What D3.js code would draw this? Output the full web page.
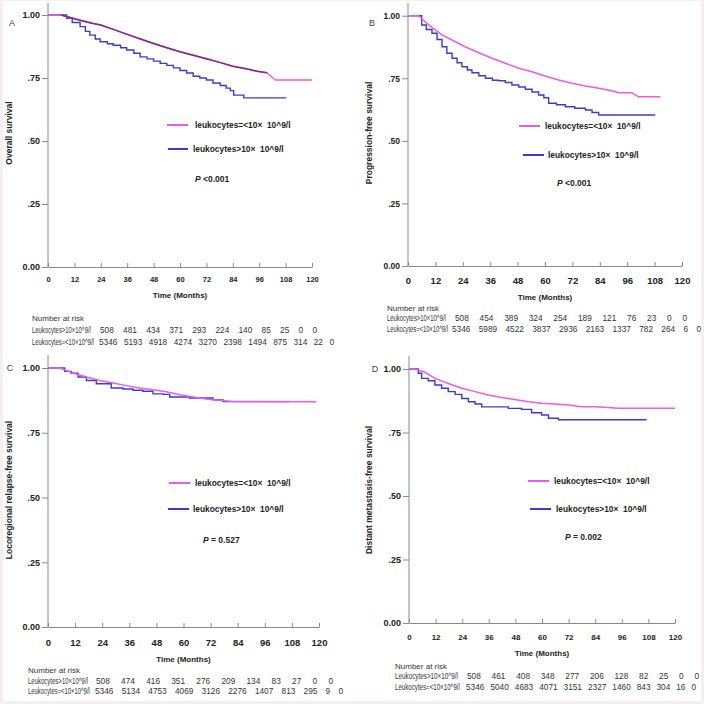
<!DOCTYPE html>
<html><head><meta charset="utf-8">
<script src="https://cdn.jsdelivr.net/npm/d3@7"></script>
<style>
html,body{margin:0;padding:0;background:#fff;}
svg{display:block;font-family:"Liberation Sans",Arial,sans-serif;}
text{white-space:pre;}
</style></head><body>
<svg id="c" width="704" height="704"></svg>
<script>
// ---------- DATA ----------
const monthTicks = [0,12,24,36,48,60,72,84,96,108,120];
const survTicks = [0,0.25,0.5,0.75,1];
const survTickLabels = ["0.00",".25",".50",".75","1.00"];
const panelLetters = ["A","B","C","D"];
const yTitles = ["Overall survival","Progression-free survival","Locoregional relapse-free survival","Distant metastasis-free survival"];
const legendLabels = ["leukocytes=<10×  10^9/l","leukocytes>10×  10^9/l"];
const riskLabels = ["Leukocytes>10×10^9/l","Leukocytes=<10×10^9/l"];
const pTexts = ["<0.001","<0.001","= 0.527","= 0.002"];

// Panel A
const A_low_t = [0,6,10,15,20,24,30,36,42,48,54,60,66,72,78,84,90,95,99.5,101,103.3,120];
const A_low_s = [1,1,0.99,0.978,0.967,0.96,0.942,0.923,0.905,0.887,0.870,0.854,0.840,0.826,0.812,0.797,0.787,0.777,0.771,0.76,0.742,0.742];
const A_high_t = [0,6,8.5,11,14.6,17,19,21.5,23.7,27,29.7,33,35.8,39,41.9,45,48,51,54,57,60,63,66,69,72,75,78.3,81,82.9,84.4,89,108.3];
const A_high_s = [1,1,0.987,0.97,0.954,0.935,0.92,0.905,0.894,0.886,0.88,0.87,0.861,0.848,0.834,0.826,0.817,0.808,0.80,0.79,0.78,0.77,0.757,0.75,0.742,0.73,0.72,0.71,0.70,0.682,0.671,0.671];
// Panel B
const B_low_t = [0,4.7,9,14.9,19.3,25,31,36.8,42.6,48.5,54.3,60,66,71.8,77.7,83.5,89.3,92.3,98,101,110.5];
const B_low_s = [1,1,0.963,0.923,0.903,0.876,0.852,0.83,0.81,0.79,0.776,0.759,0.743,0.73,0.719,0.71,0.70,0.692,0.692,0.676,0.676];
const B_high_t = [0,4.7,6,8,10.5,12.7,14.9,17,19.3,21.5,23.6,26,28,31,33.9,37,39.7,42.6,45.5,48.5,51.4,54.3,57.2,59.5,61.6,65,68.9,73,77.7,80.6,83.5,108.3];
const B_high_s = [1,1,0.963,0.945,0.93,0.905,0.876,0.85,0.83,0.812,0.796,0.783,0.772,0.76,0.75,0.742,0.74,0.733,0.723,0.715,0.706,0.695,0.683,0.672,0.65,0.644,0.636,0.63,0.623,0.613,0.603,0.603];
// Panel C
const C_low_t = [0,5.2,11,17,22.9,28.8,34.7,40.6,46.5,52.4,58.3,64.2,70,76,82,118.8];
const C_low_s = [1,1,0.981,0.965,0.952,0.942,0.932,0.923,0.916,0.908,0.897,0.888,0.88,0.875,0.871,0.87];
const C_high_t = [0,5.2,7.4,10.3,13.3,17,21.4,25,28,33.2,37.6,42,46.5,51,53.9,61.3,62.7,70,73,77.5,107];
const C_high_s = [1,1,0.987,0.98,0.965,0.952,0.939,0.939,0.923,0.919,0.914,0.91,0.90,0.898,0.888,0.888,0.884,0.884,0.877,0.87,0.87];
// Panel D
const D_low_t = [0,2.7,7.2,11.7,17.7,23.8,29.8,35.8,41.8,47.8,53.8,59.8,65.9,71.9,77.9,83.9,89.9,94.4,120];
const D_low_s = [1,1,0.987,0.963,0.943,0.924,0.911,0.898,0.888,0.88,0.871,0.865,0.862,0.858,0.851,0.851,0.848,0.845,0.845];
const D_high_t = [0,2.7,4.2,5.7,8.7,11.7,14.7,17.7,20.8,23.8,26.8,29.8,32.8,41.8,44.8,50.8,55.3,59.8,62.9,67.4,107.2];
const D_high_s = [1,1,0.983,0.963,0.954,0.937,0.924,0.911,0.90,0.884,0.871,0.862,0.851,0.851,0.845,0.841,0.828,0.819,0.806,0.80,0.80];

// Numbers at risk
const A_risk_high = [508,481,434,371,293,224,140,85,25,0,0];
const A_risk_low  = [5346,5193,4918,4274,3270,2398,1494,875,314,22,0];
const B_risk_high = [508,454,389,324,254,189,121,76,23,0,0];
const B_risk_low  = [5346,5989,4522,3837,2936,2163,1337,782,264,6,0];
const C_risk_high = [508,474,416,351,276,209,134,83,27,0,0];
const C_risk_low  = [5346,5134,4753,4069,3126,2276,1407,813,295,9,0];
const D_risk_high = [508,461,408,348,277,206,128,82,25,0,0];
const D_risk_low  = [5346,5040,4683,4071,3151,2327,1460,843,304,16,0];

// ---------- LAYOUT ----------
const PINK = "#e95be9", BLUE = "#3a3ad8", PURPLE = "#7d2b86", AXIS = "#8a8a8a", TXT = "#222";
const panels = [
 {low:[A_low_t,A_low_s], high:[A_high_t,A_high_s], risk:[A_risk_high,A_risk_low], overlay:[3,100],
  x0:48,x1:312,yT:15,yB:267,axTop:3, letter:[12,23], yTitle:[9,133], tickY:279, tickFs:7.5, yFs:9, timeY:295,
  nar:[32,318,330,342], rows:[[32,91,100,317],[32,94,99,334]],
  leg:[[125,167,188,195],[149,168,188,193]], p:[195,179]},
 {low:[B_low_t,B_low_s], high:[B_high_t,B_high_s], risk:[B_risk_high,B_risk_low],
  x0:408,x1:682,yT:15.7,yB:266,axTop:3, letter:[372,23], yTitle:[369,133], tickY:281, tickFs:9.5, yFs:8.5, timeY:297,
  nar:[387,308,318,329], rows:[[387,446,455,687],[387,448,452,701]],
  leg:[[126,519,540,545],[155,523,544,548]], p:[557,183]},
 {low:[C_low_t,C_low_s], high:[C_high_t,C_high_s], risk:[C_risk_high,C_risk_low],
  x0:48,x1:319,yT:368,yB:627,axTop:355, letter:[10,368], yTitle:[9,490], tickY:643, tickFs:9.5, yFs:9, timeY:659,
  nar:[28,670,681,691], rows:[[28,88,96,333],[28,90,95,343]],
  leg:[[483,169,190,195],[509,168,189,193]], p:[203,540]},
 {low:[D_low_t,D_low_s], high:[D_high_t,D_high_s], risk:[D_risk_high,D_risk_low],
  x0:409,x1:675,yT:369,yB:623,axTop:356, letter:[375,369], yTitle:[369,490], tickY:637, tickFs:8, yFs:9, timeY:653,
  nar:[395,666,676,687], rows:[[395,458,467,699],[395,460,466,696]],
  leg:[[481,528,549,554],[509,530,551,556]], p:[565,537]}
];

const svg = d3.select("#c");
// faint outer frame
svg.append("rect").attr("x",0).attr("y",0).attr("width",704).attr("height",704).attr("fill","#f5eff2");
svg.append("rect").attr("x",3).attr("y",1).attr("width",698).attr("height",700).attr("fill","#fff");

panels.forEach((P,i)=>{
  const g = svg.append("g");
  const x = d3.scaleLinear().domain([0,120]).range([P.x0,P.x1]);
  const y = d3.scaleLinear().domain([0,1]).range([P.yB,P.yT]);

  // y axis
  g.append("line").attr("x1",P.x0).attr("x2",P.x0).attr("y1",P.axTop).attr("y2",P.yB).attr("stroke",AXIS);
  const ya = g.append("g").attr("transform",`translate(${P.x0},0)`)
    .call(d3.axisLeft(y).tickValues(survTicks).tickSize(6).tickFormat((d,k)=>survTickLabels[k]));
  ya.select(".domain").remove();
  ya.selectAll("line").attr("stroke",AXIS);
  ya.selectAll("text").attr("font-size",P.yFs).attr("font-weight","bold").attr("fill",TXT)
    .attr("font-family","Liberation Sans, Arial, sans-serif").attr("x",-8);

  // x axis
  const xa = g.append("g").attr("transform",`translate(0,${P.yB})`)
    .call(d3.axisBottom(x).tickValues(monthTicks).tickSize(-4).tickSizeOuter(0));
  xa.select(".domain").attr("stroke",AXIS);
  xa.selectAll("line").attr("stroke",AXIS);
  xa.selectAll("text").attr("font-size",P.tickFs).attr("font-weight","bold").attr("fill",TXT)
    .attr("font-family","Liberation Sans, Arial, sans-serif")
    .attr("y",P.tickY-P.yB).attr("dy","0.35em");

  // titles
  g.append("text").attr("x",(P.x0+P.x1)/2).attr("y",P.timeY).attr("dy","0.35em")
    .attr("text-anchor","middle").attr("font-size",8).attr("font-weight","bold").attr("fill",TXT)
    .text("Time (Months)");
  g.append("text").attr("transform",`translate(${P.yTitle[0]},${P.yTitle[1]}) rotate(-90)`)
    .attr("dy","0.35em").attr("text-anchor","middle").attr("font-size",8.5).attr("font-weight","bold").attr("fill",TXT)
    .text(yTitles[i]);
  g.append("text").attr("x",P.letter[0]).attr("y",P.letter[1]).attr("dy","0.35em")
    .attr("text-anchor","middle").attr("font-size",9).attr("fill","#444").text(panelLetters[i]);

  // curves
  const lineLin = d3.line().x(d=>x(d[0])).y(d=>y(d[1]));
  const lineStep = d3.line().x(d=>x(d[0])).y(d=>y(d[1])).curve(d3.curveStepAfter);
  const lowPts = d3.zip(P.low[0],P.low[1]);
  const highPts = d3.zip(P.high[0],P.high[1]);
  g.append("path").attr("d",lineStep(highPts)).attr("fill","none").attr("stroke",BLUE).attr("stroke-width",1.4);
  g.append("path").attr("d",lineLin(lowPts)).attr("fill","none").attr("stroke",PINK).attr("stroke-width",1.5);
  if(P.overlay){
    const seg = lowPts.filter(d=>d[0]>=P.overlay[0] && d[0]<=P.overlay[1]);
    g.append("path").attr("d",lineLin(seg)).attr("fill","none").attr("stroke",PURPLE).attr("stroke-width",1.5);
  }

  // legend
  const legColors = [PINK,BLUE];
  P.leg.forEach((L,k)=>{
    g.append("line").attr("x1",L[1]).attr("x2",L[2]).attr("y1",L[0]).attr("y2",L[0])
      .attr("stroke",legColors[k]).attr("stroke-width",2);
    g.append("text").attr("x",L[3]).attr("y",L[0]).attr("dy","0.35em")
      .attr("font-size",8.4).attr("font-weight","bold").attr("fill",TXT).text(legendLabels[k]);
  });
  const pt = g.append("text").attr("x",P.p[0]).attr("y",P.p[1]).attr("dy","0.35em")
      .attr("font-size",8.5).attr("font-weight","bold").attr("fill",TXT);
  pt.append("tspan").attr("font-style","italic").text("P");
  pt.append("tspan").text(" "+pTexts[i]);

  // number at risk
  g.append("text").attr("x",P.nar[0]).attr("y",P.nar[1]).attr("dy","0.35em")
    .attr("font-size",8).attr("fill","#333").text("Number at risk");
  P.rows.forEach((R,k)=>{
    const yy = P.nar[2+k];
    const lg = g.append("g");
    const lt = lg.append("text").attr("x",0).attr("y",0).attr("dy","0.35em")
      .attr("font-size",8.3).attr("fill","#333").text(riskLabels[k]);
    const nat = lt.node().getComputedTextLength();
    lg.attr("transform",`translate(${R[0]},${yy}) scale(${(R[1]-R[0])/nat},1)`);
    const vals = P.risk[k];
    const nodes = vals.map(v=>g.append("text").attr("y",yy).attr("dy","0.35em")
      .attr("font-size",8.3).attr("fill","#333").text(String(v)));
    const widths = nodes.map(n=>n.node().getComputedTextLength());
    const total = d3.sum(widths);
    const gap = ((R[3]-R[2]) - total)/(vals.length-1);
    let cx = R[2];
    nodes.forEach((n,j)=>{ n.attr("x",cx); cx += widths[j]+gap; });
  });
});
</script>
</body></html>
